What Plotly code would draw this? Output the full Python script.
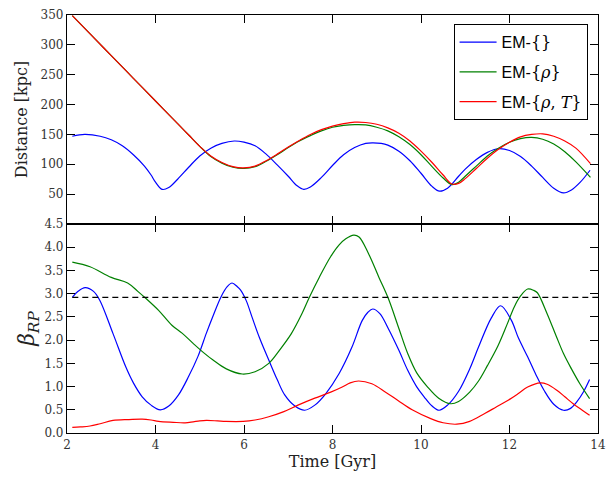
import plotly.graph_objects as go
from plotly.subplots import make_subplots

# ---------------- data ----------------
# Top panel: distance [kpc]
t_dist_blue = [2.12, 2.4, 2.75, 3.0, 3.25, 3.5, 3.75, 3.9, 4.0, 4.15, 4.3, 4.5, 4.75, 5.0, 5.25, 5.5,
               5.78, 6.0, 6.25, 6.5, 6.75, 7.0, 7.2, 7.35, 7.5, 7.75, 8.0, 8.25, 8.5, 8.75, 8.9,
               9.1, 9.25, 9.5, 9.75, 10.0, 10.25, 10.42, 10.6, 10.85, 11.0, 11.25, 11.5, 11.75,
               12.0, 12.25, 12.5, 12.75, 13.0, 13.22, 13.4, 13.6, 13.82]
dist_blue = [147, 150, 147, 141, 131, 116, 97, 82, 70, 58, 61, 75, 95, 114, 127, 135,
             139, 137, 131, 117, 99, 80, 64, 58, 62, 78, 98, 116, 128, 135, 136,
             135, 132, 122, 106, 85, 63, 55, 60, 80, 92, 108, 120, 126,
             123, 113, 97, 78, 60, 52, 57, 70, 90]

t_dist_rg = [2.12, 2.5, 3.0, 3.5, 4.0, 4.5, 4.75, 5.0, 5.25, 5.5, 5.75, 6.0, 6.25, 6.5, 6.75,
             7.0, 7.25, 7.5, 7.75, 8.0, 8.25, 8.5, 8.75, 9.0, 9.25, 9.5, 9.75, 10.0, 10.25,
             10.5, 10.7, 10.85, 11.0, 11.25, 11.5, 11.75, 12.0, 12.25, 12.5, 12.75, 13.0,
             13.25, 13.5, 13.83]
dist_green = [349, 320, 282, 244, 206, 168, 149, 130, 113, 102, 95, 93, 96, 105, 116,
              128, 139, 148, 156, 162, 165, 166.5, 166, 162, 156, 146, 133, 116, 96,
              77, 66, 70, 80, 97, 114, 127, 137, 143, 145, 142, 134,
              121, 104, 78]
dist_red = [349, 320, 282, 244, 206, 168, 149, 130, 114, 103, 96, 94, 97, 106, 117,
            129, 140, 150, 158, 164, 168, 170.5, 170, 167, 161, 152, 139, 122, 103,
            82, 67, 68, 76, 93, 110, 125, 137, 146, 150, 151, 147,
            139, 127, 101]

# Bottom panel: beta_RP
t_beta_blue = [2.12, 2.25, 2.41, 2.6, 2.74, 3.04, 3.33, 3.5, 3.7, 3.9, 4.11, 4.3, 4.52, 4.75,
               4.96, 5.15, 5.3, 5.48, 5.62, 5.73, 5.85, 5.92, 6.05, 6.18, 6.35, 6.56, 6.75,
               6.92, 7.15, 7.37, 7.6, 7.85, 8.15, 8.44, 8.67, 8.8, 8.91, 9.07, 9.26, 9.5,
               9.7, 9.9, 10.07, 10.25, 10.41, 10.6, 10.85, 11.1, 11.3, 11.59, 11.8, 12.04,
               12.2, 12.41, 12.6, 12.78, 13.0, 13.22, 13.38, 13.52, 13.68, 13.81]
beta_blue = [2.92, 3.05, 3.13, 3.05, 2.86, 2.14, 1.42, 1.08, 0.78, 0.60, 0.50, 0.58, 0.82, 1.22,
             1.65, 2.15, 2.52, 2.93, 3.15, 3.23, 3.15, 3.08, 2.85, 2.50, 2.05, 1.57, 1.15,
             0.82, 0.58, 0.49, 0.60, 0.85, 1.28, 1.85, 2.42, 2.60, 2.67, 2.57, 2.25, 1.78,
             1.35, 1.00, 0.78, 0.58, 0.49, 0.60, 0.90, 1.38, 1.85, 2.48, 2.74, 2.43,
             2.05, 1.64, 1.25, 0.92, 0.62, 0.49, 0.53, 0.67, 0.90, 1.15]

t_beta_green = [2.12, 2.52, 3.0, 3.37, 3.6, 3.78, 4.07, 4.37, 4.6, 4.85, 5.1, 5.3, 5.6, 5.96,
                6.25, 6.56, 6.8, 7.07, 7.3, 7.48, 7.7, 7.96, 8.15, 8.3, 8.48, 8.6, 8.81, 9.05,
                9.26, 9.5, 9.7, 9.9, 10.15, 10.4, 10.67, 10.85, 11.1, 11.3, 11.5, 11.74,
                11.95, 12.11, 12.25, 12.41, 12.55, 12.63, 12.85, 13.05, 13.22, 13.4, 13.59,
                13.81]
beta_green = [3.68, 3.58, 3.35, 3.23, 3.05, 2.90, 2.64, 2.32, 2.15, 1.93, 1.72, 1.57, 1.38, 1.27,
              1.32, 1.50, 1.78, 2.14, 2.55, 2.93, 3.35, 3.80, 4.05, 4.18, 4.26, 4.22, 3.87, 3.35,
              2.90, 2.25, 1.71, 1.30, 0.99, 0.75, 0.63, 0.68, 0.88, 1.12, 1.45, 1.88,
              2.35, 2.72, 2.95, 3.10, 3.07, 3.02, 2.57, 2.10, 1.71, 1.38, 1.06,
              0.74]

t_beta_red = [2.12, 2.3, 2.52, 2.75, 3.04, 3.4, 3.7, 3.9, 4.07, 4.4, 4.67, 4.85, 5.0, 5.15,
              5.4, 5.59, 5.98, 6.25, 6.56, 6.9, 7.22, 7.6, 7.96, 8.22, 8.4, 8.59, 8.89, 9.2,
              9.48, 9.8, 10.22, 10.5, 10.81, 11.1, 11.44, 11.7, 11.96, 12.2, 12.41, 12.7,
              12.85, 13.07, 13.25, 13.44, 13.6, 13.81]
beta_red = [0.12, 0.13, 0.15, 0.20, 0.27, 0.29, 0.30, 0.28, 0.25, 0.23, 0.22, 0.24, 0.26, 0.27,
            0.26, 0.25, 0.25, 0.28, 0.35, 0.46, 0.60, 0.75, 0.88, 0.99, 1.08, 1.12, 1.06, 0.88,
            0.70, 0.50, 0.31, 0.22, 0.19, 0.25, 0.42, 0.56, 0.70, 0.85, 0.99, 1.08,
            1.05, 0.92, 0.78, 0.63, 0.52, 0.38]

t_threshold = [2.12, 14.0]
beta_threshold = [2.92, 2.92]

labels = ["EM-<span style='font-family:DejaVu Serif'>{}</span>",
          "EM-<span style='font-family:DejaVu Serif'>{<i>ρ</i>}</span>",
          "EM-<span style='font-family:DejaVu Serif'>{<i>ρ</i>, <i>T</i>}</span>"]
colors = ["#0000ff", "#008000", "#ff0000"]
groups = ["em0", "em1", "em2"]

dist_ticks = [50, 100, 150, 200, 250, 300, 350]
beta_ticks = [0.0, 0.5, 1.0, 1.5, 2.0, 2.5, 3.0, 3.5, 4.0, 4.5]
time_ticks = [2, 4, 6, 8, 10, 12, 14]

# ---------------- figure ----------------
fig = make_subplots(rows=2, cols=1, shared_xaxes=True, vertical_spacing=0.0)

lw = 1.2
fig.add_trace(go.Scatter(x=t_dist_blue, y=dist_blue, mode="lines", name=labels[0], legendgroup=groups[0],
                         line=dict(color=colors[0], width=lw, shape="spline")), row=1, col=1)
fig.add_trace(go.Scatter(x=t_dist_rg, y=dist_green, mode="lines", name=labels[1], legendgroup=groups[1],
                         line=dict(color=colors[1], width=lw, shape="spline")), row=1, col=1)
fig.add_trace(go.Scatter(x=t_dist_rg, y=dist_red, mode="lines", name=labels[2], legendgroup=groups[2],
                         line=dict(color=colors[2], width=lw, shape="spline")), row=1, col=1)

fig.add_trace(go.Scatter(x=t_beta_blue, y=beta_blue, mode="lines", showlegend=False, legendgroup=groups[0],
                         line=dict(color=colors[0], width=lw, shape="spline")), row=2, col=1)
fig.add_trace(go.Scatter(x=t_beta_green, y=beta_green, mode="lines", showlegend=False, legendgroup=groups[1],
                         line=dict(color=colors[1], width=lw, shape="spline")), row=2, col=1)
fig.add_trace(go.Scatter(x=t_beta_red, y=beta_red, mode="lines", showlegend=False, legendgroup=groups[2],
                         line=dict(color=colors[2], width=lw, shape="spline")), row=2, col=1)
fig.add_trace(go.Scatter(x=t_threshold, y=beta_threshold, mode="lines", showlegend=False,
                         line=dict(color="black", width=1.3, dash="6px,4px")), row=2, col=1)

tickfont = dict(family="DejaVu Serif", size=12, color="#333333")
axis_common = dict(showgrid=False, zeroline=False, showline=True, linecolor="black",
                   linewidth=1.2, mirror="ticks", ticks="inside", ticklen=8,
                   tickcolor="black", tickwidth=1, tickfont=tickfont,
                   ticklabeloverflow="allow")

fig.update_xaxes(range=[2, 14], tickvals=time_ticks, **axis_common)
fig.update_xaxes(showticklabels=False, row=1, col=1)
fig.update_xaxes(title=dict(text="Time [Gyr]", font=dict(family="DejaVu Serif", size=16, color="#222"),
                            standoff=5), row=2, col=1)

fig.update_yaxes(**axis_common)
fig.update_yaxes(range=[0, 350], tickvals=dist_ticks, row=1, col=1,
                 title=dict(text="Distance [kpc]", font=dict(family="DejaVu Serif", size=16, color="#222"),
                            standoff=8))
fig.update_yaxes(range=[0, 4.5], tickvals=beta_ticks, tickformat=".1f", row=2, col=1,
                 title=dict(text="<i>β</i><sub><i>RP</i></sub>",
                            font=dict(family="DejaVu Serif", size=22, color="#222"),
                            standoff=3))

fig.update_layout(
    width=613, height=477,
    margin=dict(l=67, r=7, t=15, b=44),
    paper_bgcolor="white", plot_bgcolor="white",
    legend=dict(x=0.728, y=0.978, xanchor="left", yanchor="top",
                bgcolor="white", bordercolor="black", borderwidth=1,
                font=dict(family="Liberation Sans", size=16, color="black"),
                itemwidth=37, traceorder="grouped", tracegroupgap=6),
)

fig.write_html("out.html")
